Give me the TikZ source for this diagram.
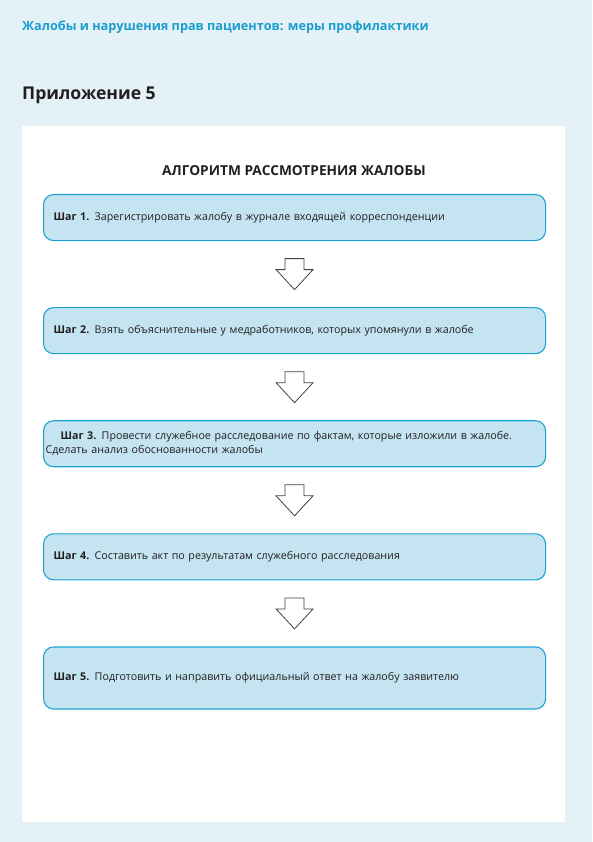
\documentclass[tikz,border=0pt]{standalone}
\usepackage{fontspec}
\setmainfont{Open Sans}
\usepackage{tikz}
\usetikzlibrary{positioning, calc}
\definecolor{pagebg}{HTML}{E4F2F7}
\definecolor{headblue}{HTML}{1B9ECF}
\definecolor{stepfill}{HTML}{C4E4F1}
\definecolor{stepline}{HTML}{1EA2D3}
\definecolor{inkdark}{HTML}{231F20}

\begin{document}
\begin{tikzpicture}[x=1pt, y=1pt,
  stepbox/.style={draw=stepline, fill=stepfill, line width=1.1pt, rounded corners=10pt,
                  minimum width=502pt, minimum height=46pt, text width=482pt,
                  inner xsep=10pt, align=left, text=inkdark,
                  font=\fontsize{10.7}{14}\selectfont},
  downarrow/.style={draw=inkdark!85, line width=0.8pt, fill=white, line join=miter}
]
\useasboundingbox (0,0) rectangle (592,-842);
\fill[pagebg] (0,0) rectangle (592,-842);
\fill[white] (22,-126) rectangle (565,-822);

\node[anchor=west, inner sep=0, text=headblue, font=\fontsize{12.7}{15}\selectfont\bfseries]
  (runhead) at (22,-27) {Жалобы и нарушения прав пациентов: меры профилактики};
\node[anchor=west, inner sep=0, text=inkdark, font=\fontsize{17.6}{20}\selectfont\bfseries]
  (annex) at (22,-95) {Приложение 5};
\node[inner sep=0, text=inkdark, font=\fontsize{13.7}{15}\selectfont\bfseries]
  (algtitle) at (294,-171) {АЛГОРИТМ РАССМОТРЕНИЯ ЖАЛОБЫ};

\node[stepbox, anchor=north west] (s1) at (43,-194) {
  \textbf{Шаг 1.} Зарегистрировать жалобу в журнале входящей корреспонденции};
\node[stepbox, below=66pt of s1] (s2) {
  \textbf{Шаг 2.} Взять объяснительные у медработников, которых упомянули в жалобе};
\node[stepbox, below=66pt of s2] (s3) {
  \hspace*{7pt}\textbf{Шаг 3.} Провести служебное расследование по фактам, которые изложили в жалобе.\\
  \hspace*{-8pt}Сделать анализ обоснованности жалобы};
\node[stepbox, below=66pt of s3] (s4) {
  \textbf{Шаг 4.} Составить акт по результатам служебного расследования};
\node[stepbox, minimum height=62pt, below=66pt of s4] (s5) {
  \textbf{Шаг 5.} Подготовить и направить официальный ответ на жалобу заявителю};

% block arrows between the steps
\foreach \upper/\lower in {s1/s2, s2/s3, s3/s4, s4/s5}
  \draw[downarrow] ($(\upper.south)!0.5!(\lower.north)$) ++(-9.5,15.5) -- ++(19,0)
    -- ++(0,-11) -- ++(9,0) -- ++(-18.5,-20) -- ++(-18.5,20) -- ++(9,0) -- cycle;
\end{tikzpicture}
\end{document}
